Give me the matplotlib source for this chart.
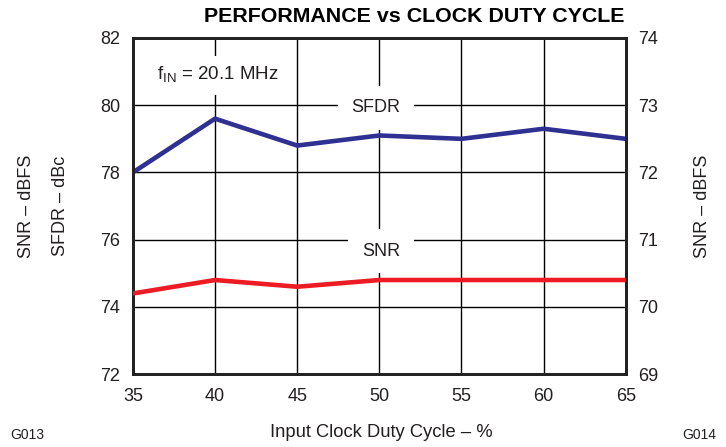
import matplotlib.pyplot as plt

plt.rcParams['font.family'] = ['Liberation Sans', 'DejaVu Sans']

duty = [35, 40, 45, 50, 55, 60, 65]
sfdr = [78.0, 79.6, 78.8, 79.1, 79.0, 79.3, 79.0]
snr = [70.2, 70.4, 70.3, 70.4, 70.4, 70.4, 70.4]

left_ticks = [72, 74, 76, 78, 80, 82]
right_ticks = [69, 70, 71, 72, 73, 74]

txt = '#231F20'

fig = plt.figure(figsize=(7.26, 4.47), dpi=100)
ax = fig.add_axes([0.183, 0.163, 0.679, 0.752])
ax2 = ax.twinx()

ax.set_xlim(35, 65)
ax.set_ylim(72, 82)
ax2.set_ylim(69, 74)
ax.set_xticks(duty)
ax.set_yticks(left_ticks)
ax2.set_yticks(right_ticks)

ax.grid(True, color='black', linewidth=1.0, zorder=0)
ax.set_axisbelow(True)

ax.plot(duty, sfdr, color='#2E3192', linewidth=3.3, zorder=3, solid_capstyle='butt')
ax2.plot(duty, snr, color='#ED1C24', linewidth=3.3, zorder=3, solid_capstyle='butt')

for a in (ax, ax2):
    for s in a.spines.values():
        s.set_linewidth(2.0)
        s.set_color('#222222')
    a.tick_params(length=0, labelsize=13, labelcolor=txt)
ax.tick_params(axis='x', pad=10)
ax.tick_params(axis='y', pad=9)
ax2.tick_params(axis='y', pad=9)

ax.set_zorder(1)
ax2.set_zorder(2)
ax2.patch.set_visible(False)

ax.text(36.45, 80.75, r'f$_{\mathregular{IN}}$ = 20.1 MHz', fontsize=13.5, color=txt,
        ha='left', va='baseline',
        bbox=dict(facecolor='white', edgecolor='none', boxstyle='square,pad=0.5'), zorder=2)
ax.text(49.8, 79.93, 'SFDR', fontsize=13, color=txt, ha='center', va='center',
        bbox=dict(facecolor='white', edgecolor='none', boxstyle='square,pad=0.75'), zorder=2)
ax.text(50.1, 75.65, 'SNR', fontsize=13, color=txt, ha='center', va='center',
        bbox=dict(facecolor='white', edgecolor='none', boxstyle='square,pad=0.75'), zorder=2)

fig.text(0.571, 0.963, 'PERFORMANCE vs CLOCK DUTY CYCLE', fontsize=15.4, fontweight='bold',
         color='black', ha='center', va='center')
fig.text(0.525, 0.033, 'Input Clock Duty Cycle \u2013 %', fontsize=13.2, color=txt, ha='center', va='center')
fig.text(0.036, 0.539, 'SNR \u2013 dBFS', fontsize=13, color=txt, rotation=90, ha='center', va='center')
fig.text(0.084, 0.539, 'SFDR \u2013 dBc', fontsize=13, color=txt, rotation=90, ha='center', va='center')
fig.text(0.968, 0.539, 'SNR \u2013 dBFS', fontsize=13, color=txt, rotation=90, ha='center', va='center')
fig.text(0.014, 0.011, 'G013', fontsize=10, color=txt, ha='left', va='bottom')
fig.text(0.987, 0.011, 'G014', fontsize=10, color=txt, ha='right', va='bottom')

fig.savefig('out.png', dpi=100)
